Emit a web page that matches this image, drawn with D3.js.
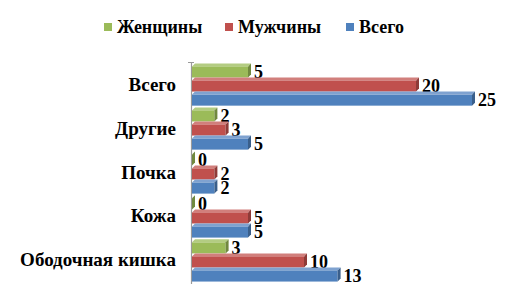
<!DOCTYPE html>
<html>
<head>
<meta charset="utf-8">
<script src="https://cdn.jsdelivr.net/npm/d3@7"></script>
<style>
  body { margin: 0; background: #fff; }
</style>
</head>
<body>
<div id="chart"></div>
<script>
// categories top to bottom, as drawn
const categories = ["Всего", "Другие", "Почка", "Кожа", "Ободочная кишка"];
const seriesNames = ["Женщины", "Мужчины", "Всего"];
const women = [5, 2, 0, 0, 3];
const men = [20, 3, 2, 5, 10];
const total = [25, 5, 2, 5, 13];

const colors = ["#9bbb59", "#c0504d", "#4f81bd"];
const sideColors = ["#71893f", "#8e3b38", "#3a5f8b"];
const topColors = ["#b3cc82", "#d17f7c", "#7fa2d0"];

const width = 521, height = 292;
const depth = 3;
const serif = "'Liberation Serif', 'Times New Roman', serif";

const data = categories.map((c, i) => ({
  cat: c,
  values: [women[i], men[i], total[i]]
}));

const svg = d3.select("#chart")
  .append("svg")
  .attr("width", width)
  .attr("height", height)
  .attr("font-family", serif)
  .attr("font-weight", "bold");

const x = d3.scaleLinear().domain([0, 25]).range([192, 472]);
const y = d3.scaleBand().domain(categories).range([63, 282]).paddingInner(0.04).paddingOuter(0.01);
const y1 = d3.scaleBand().domain(d3.range(3)).range([0, y.bandwidth()]);

// axis line
svg.append("line")
  .attr("x1", 191.5).attr("x2", 191.5)
  .attr("y1", 62).attr("y2", 284)
  .attr("stroke", "#9a9a9a").attr("stroke-width", 1.2);
svg.append("line")
  .attr("x1", 188).attr("x2", 194)
  .attr("y1", 62.5).attr("y2", 62.5)
  .attr("stroke", "#9a9a9a").attr("stroke-width", 1);

// category labels
svg.append("g")
  .selectAll("text")
  .data(categories)
  .join("text")
  .attr("x", 176)
  .attr("y", (d) => y(d) + y.bandwidth() / 2 + 6)
  .attr("text-anchor", "end")
  .style("font-family", serif)
  .style("font-size", "19px")
  .text((d) => d);

const groups = svg.append("g")
  .selectAll("g")
  .data(data)
  .join("g")
  .attr("transform", (d) => "translate(0," + y(d.cat) + ")");

groups.each(function (d) {
  const g = d3.select(this);
  d.values.forEach((v, s) => {
    const top = y1(s) + depth;
    const h = y1.bandwidth() - depth;
    const x0 = x(0), xe = x(v);
    // top face
    g.append("path")
      .attr("d", `M${x0},${top} L${x0 + depth},${top - depth} L${xe + depth},${top - depth} L${xe},${top} Z`)
      .attr("fill", topColors[s]);
    // front face
    g.append("rect")
      .attr("x", x0).attr("y", top)
      .attr("width", xe - x0).attr("height", h)
      .attr("fill", colors[s]);
    // side face
    g.append("path")
      .attr("d", `M${xe},${top} L${xe + depth},${top - depth} L${xe + depth},${top + h - depth} L${xe},${top + h} Z`)
      .attr("fill", sideColors[s]);
    // value label
    g.append("text")
      .attr("x", xe + depth + 3)
      .attr("y", top + h / 2 + 6)
      .style("font-family", serif)
      .style("font-size", "18px")
      .text(v);
  });
});

// legend
const legendX = [104, 225, 346];
const legend = svg.append("g")
  .selectAll("g")
  .data(seriesNames)
  .join("g")
  .attr("transform", (d, i) => "translate(" + legendX[i] + ",23)");
legend.append("rect")
  .attr("width", 8).attr("height", 8)
  .attr("fill", (d, i) => colors[i]);
legend.append("text")
  .attr("x", 13).attr("y", 10)
  .style("font-family", serif)
  .style("font-size", "18px")
  .text((d) => d);
</script>
</body>
</html>
